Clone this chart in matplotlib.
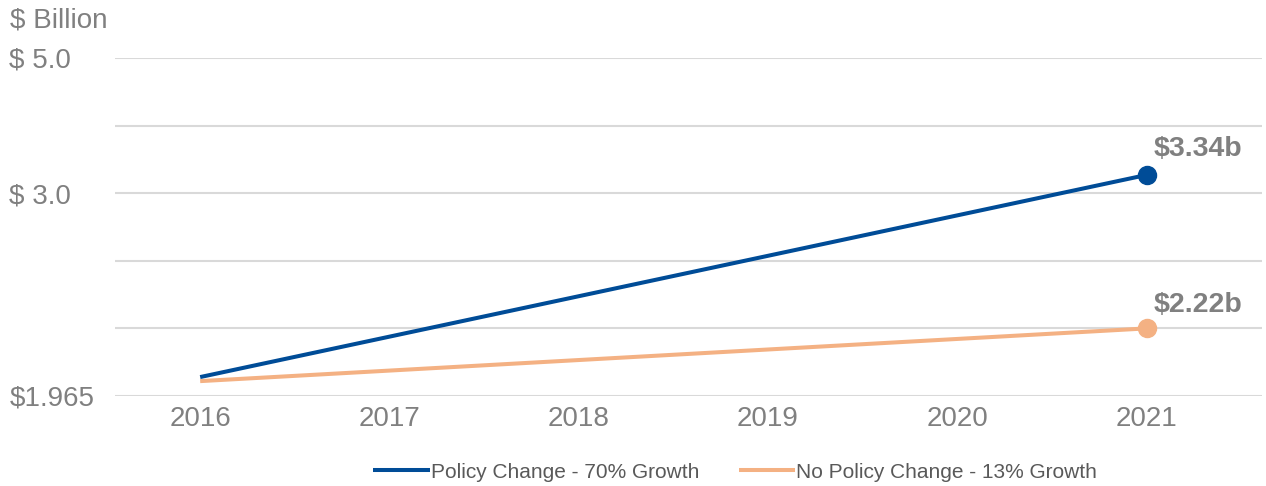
import matplotlib
matplotlib.use("Agg")
import matplotlib.pyplot as plt

plt.rcParams['font.family'] = ['Liberation Sans', 'DejaVu Sans']

# values in chart grid units (the source axis labels are not linear)
years = [2016, 2021]
policy = [0.28, 3.27]
no_policy = [0.22, 1.00]
policy_label = "$3.34b"
no_policy_label = "$2.22b"
ytick_pos = [0, 1, 2, 3, 4, 5]
ytick_labels = ["$1.965", "", "", "$ 3.0", "", "$ 5.0"]
xticks = [2016, 2017, 2018, 2019, 2020, 2021]

blue = "#004C97"
orange = "#F4B183"
gray = "#808080"

fig = plt.figure(figsize=(12.66, 4.86), dpi=100)
ax = fig.add_axes([115/1266, 1-396/486, (1262-115)/1266, (396-58)/486])

ax.plot(years, policy, color=blue, lw=2.9, label="Policy Change - 70% Growth", solid_capstyle='butt')
ax.plot(years, no_policy, color=orange, lw=2.9, label="No Policy Change - 13% Growth", solid_capstyle='butt')
ax.plot(years[-1], policy[-1], 'o', color=blue, ms=13, clip_on=False)
ax.plot(years[-1], no_policy[-1], 'o', color=orange, ms=13, clip_on=False)

ax.annotate(policy_label, (years[-1], policy[-1]), xytext=(37, 19), textcoords='offset points',
            ha='center', va='center', fontsize=20.5, fontweight='bold', color=gray)
ax.annotate(no_policy_label, (years[-1], no_policy[-1]), xytext=(37, 17), textcoords='offset points',
            ha='center', va='center', fontsize=20.5, fontweight='bold', color=gray)

ax.set_xlim(2015.55, 2021.61)
ax.set_ylim(0, 5)
ax.set_yticks(ytick_pos)
ax.set_yticklabels(ytick_labels)
ax.set_xticks(xticks)
for lab in ax.get_yticklabels():
    lab.set_horizontalalignment('left')
ax.tick_params(axis='y', length=0, pad=76, labelsize=20, labelcolor=gray)
ax.tick_params(axis='x', length=0, pad=7, labelsize=20, labelcolor=gray)
for s in ax.spines.values():
    s.set_visible(False)
ax.grid(axis='y', color='#d9d9d9', lw=1.5)
ax.set_axisbelow(True)

fig.text(10/1266, 1-20/486, "$ Billion", fontsize=20, color=gray, ha='left', va='center')

fig.legend(loc='center', bbox_to_anchor=(735/1266, 1-472/486), ncol=2, frameon=False,
           fontsize=15, handlelength=2.7, handletextpad=0.05, columnspacing=1.9,
           labelcolor='#595959')

fig.savefig("out.png", dpi=100)
